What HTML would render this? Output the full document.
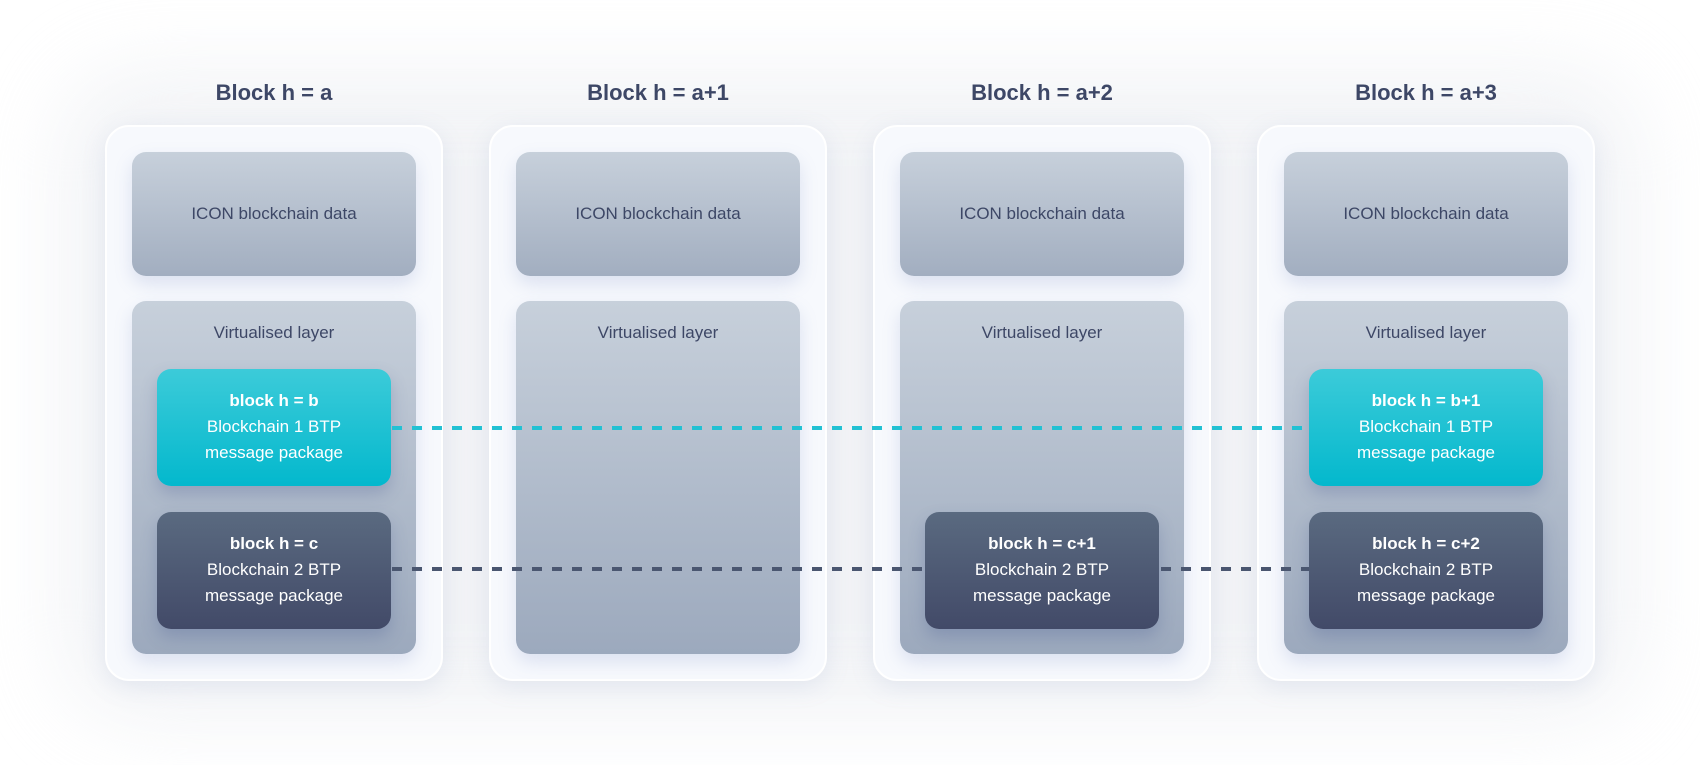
<!DOCTYPE html>
<html><head><style>
*{margin:0;padding:0;box-sizing:border-box}
body{width:1700px;height:765px;background:#fff;position:relative;overflow:hidden;font-family:"Liberation Sans",sans-serif;}
.bg{position:absolute;left:60px;top:70px;width:1580px;height:650px;border-radius:80px;background:#eceef2;filter:blur(40px);opacity:.65}
.title{position:absolute;top:80px;width:338px;text-align:center;font-weight:bold;font-size:22px;color:#3d4766}
.panel{position:absolute;top:125px;width:338px;height:556px;border-radius:24px;background:#f7f9fd;border:2px solid #fff;box-shadow:0 6px 24px rgba(120,140,190,.15)}
.icon{position:absolute;left:25px;top:25px;width:284px;height:124px;border-radius:14px;background:linear-gradient(#c7d0db,#a2aec0);box-shadow:0 8px 18px rgba(110,130,190,.2);color:#3d4766;font-size:17px;text-align:center;line-height:124px}
.virt{position:absolute;left:25px;top:174px;width:284px;height:353px;border-radius:14px;background:linear-gradient(#c7d0db,#9ca9bd);box-shadow:0 8px 18px rgba(110,130,190,.2);color:#3d4766;font-size:17px;text-align:center;padding-top:22px}
.pk{position:absolute;left:50px;width:234px;height:117px;border-radius:14px;color:#fff;font-size:17px;text-align:center;line-height:26px;padding-top:19px;box-shadow:0 8px 16px rgba(60,80,140,.25)}
.cy{top:242px;background:linear-gradient(#3ccbd9,#03b8cd)}
.dk{top:385px;background:linear-gradient(#5a6a80,#424a68)}
.pk b{font-weight:bold}
.dash{position:absolute;height:4px}
</style></head><body>
<div class="bg"></div>
<div class="title" style="left:105px">Block h = a</div>
<div class="title" style="left:489px">Block h = a+1</div>
<div class="title" style="left:873px">Block h = a+2</div>
<div class="title" style="left:1257px">Block h = a+3</div>

<div class="panel" style="left:105px"><div class="icon">ICON blockchain data</div><div class="virt">Virtualised layer</div>
<div class="pk cy"><b>block h = b</b><br>Blockchain 1 BTP<br>message package</div>
<div class="pk dk"><b>block h = c</b><br>Blockchain 2 BTP<br>message package</div></div>

<div class="panel" style="left:489px"><div class="icon">ICON blockchain data</div><div class="virt">Virtualised layer</div></div>

<div class="panel" style="left:873px"><div class="icon">ICON blockchain data</div><div class="virt">Virtualised layer</div>
<div class="pk dk"><b>block h = c+1</b><br>Blockchain 2 BTP<br>message package</div></div>

<div class="panel" style="left:1257px"><div class="icon">ICON blockchain data</div><div class="virt">Virtualised layer</div>
<div class="pk cy"><b>block h = b+1</b><br>Blockchain 1 BTP<br>message package</div>
<div class="pk dk"><b>block h = c+2</b><br>Blockchain 2 BTP<br>message package</div></div>

<div class="dash" style="left:392px;top:426px;width:917px;background:repeating-linear-gradient(90deg,#22c1d3 0 10px,transparent 10px 20px)"></div>
<div class="dash" style="left:392px;top:567px;width:533px;background:repeating-linear-gradient(90deg,#4a5670 0 10px,transparent 10px 20px)"></div>
<div class="dash" style="left:1161px;top:567px;width:148px;background:repeating-linear-gradient(90deg,#4a5670 0 10px,transparent 10px 20px)"></div>
</body></html>
